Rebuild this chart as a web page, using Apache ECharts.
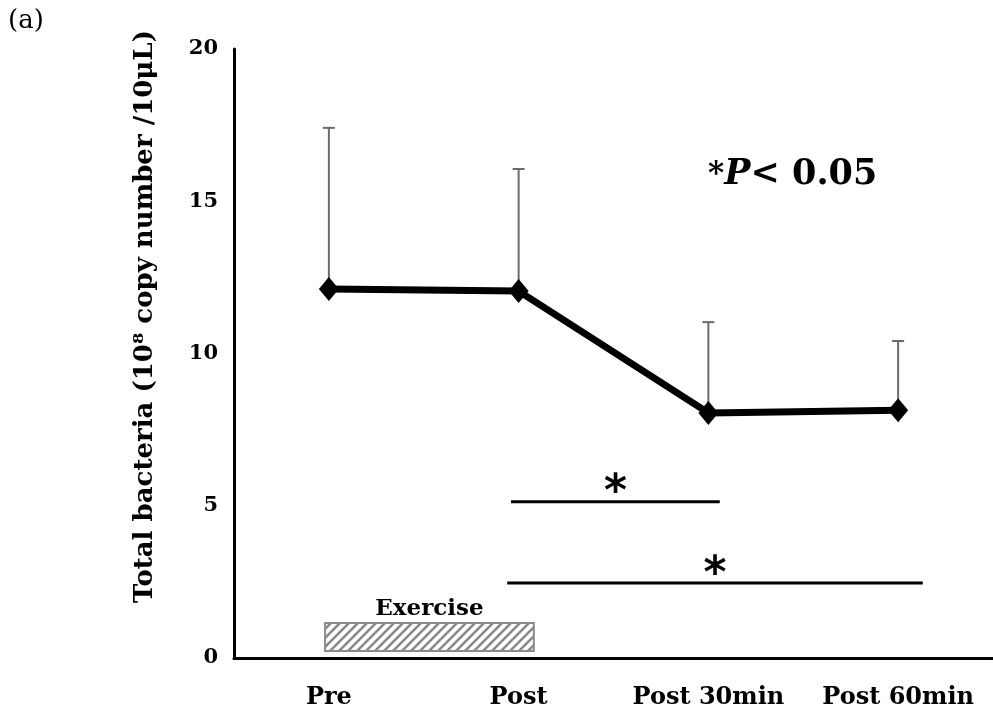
<!DOCTYPE html>
<html>
<head>
<meta charset="UTF-8">
<title>Total bacteria</title>
<script src="https://cdn.jsdelivr.net/npm/echarts@6/dist/echarts.min.js"></script>
<style>
  html, body { margin: 0; padding: 0; background: #fff; }
  #main { width: 993px; height: 722px; }
</style>
</head>
<body>
<div id="main"></div>
<script type="text/javascript">
// data
var categories = ['Pre', 'Post', 'Post 30min', 'Post 60min'];
var means = [12.12, 12.05, 8.05, 8.14];
var upperSD = [17.41, 16.06, 11.03, 10.41];
// significance bars in category units
var sigFrom = [0.96, 0.94];
var sigTo = [2.06, 3.13];
var sigLevel = [5.13, 2.46];
// exercise period box: [from, to, bottom, top]
var exercise = [[-0.02, 1.08, 0.23, 1.15]];
var yTicks = { min: 0, max: 20, interval: 5 };

var FONT = 'DejaVu Serif';

// hatch pattern for the exercise box
var hatch = document.createElement('canvas');
hatch.width = 9; hatch.height = 9;
(function () {
  var c = hatch.getContext('2d');
  c.fillStyle = '#fff';
  c.fillRect(0, 0, 9, 9);
  c.strokeStyle = '#8a8a8a';
  c.lineWidth = 2.6;
  c.beginPath();
  c.moveTo(-1, 10); c.lineTo(10, -1);
  c.moveTo(-1, 1); c.lineTo(1, -1);
  c.moveTo(8, 10); c.lineTo(10, 8);
  c.stroke();
})();

var errData = categories.map(function (c, i) { return [i, means[i], upperSD[i]]; });
var sigData = sigFrom.map(function (f, i) { return [f, sigTo[i], sigLevel[i]]; });

var myChart = echarts.init(document.getElementById('main'));

var option = {
  animation: false,
  backgroundColor: '#fff',
  grid: { left: 234, width: 764, top: 49, bottom: 64, containLabel: false },
  xAxis: [{
    type: 'category',
    data: categories,
    axisLine: { lineStyle: { color: '#000', width: 3 } },
    axisTick: { show: false },
    axisLabel: { interval: 0, hideOverlap: false, color: '#000', fontFamily: FONT, fontWeight: 'bold', fontSize: 24, margin: 28 }
  }, {
    type: 'value',
    min: -0.5, max: 3.5,
    show: false
  }],
  yAxis: {
    type: 'value',
    min: yTicks.min, max: yTicks.max, interval: yTicks.interval,
    splitLine: { show: false },
    axisTick: { show: false },
    axisLine: { show: true, onZero: false, lineStyle: { color: '#000', width: 3 } },
    axisLabel: { color: '#000', fontFamily: FONT, fontWeight: 'bold', fontSize: 21, margin: 16 },
    name: 'Total bacteria (10⁸ copy number /10μL)',
    nameLocation: 'middle',
    nameGap: 76,
    nameTextStyle: { color: '#000', fontFamily: FONT, fontWeight: 'bold', fontSize: 26, padding: [0, 0, 0, 74] }
  },
  series: [
    {
      type: 'custom',
      xAxisIndex: 1,
      data: exercise,
      z: 1,
      renderItem: function (params, api) {
        var p1 = api.coord([api.value(0), api.value(3)]);
        var p2 = api.coord([api.value(1), api.value(2)]);
        return {
          type: 'group',
          children: [{
            type: 'rect',
            shape: { x: p1[0], y: p1[1], width: p2[0] - p1[0], height: p2[1] - p1[1] },
            style: { fill: { image: hatch, repeat: 'repeat' }, stroke: '#8a8a8a', lineWidth: 2 }
          }, {
            type: 'text',
            x: (p1[0] + p2[0]) / 2, y: p1[1] - 2,
            style: { text: 'Exercise', fill: '#000', font: 'bold 23px "' + FONT + '"', align: 'center', verticalAlign: 'bottom' }
          }]
        };
      }
    },
    {
      type: 'custom',
      xAxisIndex: 0,
      data: errData,
      z: 2,
      renderItem: function (params, api) {
        var base = api.coord([api.value(0), api.value(1)]);
        var top = api.coord([api.value(0), api.value(2)]);
        var st = { stroke: '#6b6b6b', lineWidth: 2 };
        return {
          type: 'group',
          children: [
            { type: 'line', shape: { x1: base[0], y1: base[1], x2: top[0], y2: top[1] }, style: st },
            { type: 'line', shape: { x1: top[0] - 6, y1: top[1], x2: top[0] + 6, y2: top[1] }, style: st }
          ]
        };
      }
    },
    {
      type: 'line',
      data: means,
      z: 3,
      symbol: 'diamond',
      symbolSize: [20, 24],
      lineStyle: { color: '#000', width: 7 },
      itemStyle: { color: '#000' }
    },
    {
      type: 'custom',
      xAxisIndex: 1,
      data: sigData,
      z: 3,
      renderItem: function (params, api) {
        var a = api.coord([api.value(0), api.value(2)]);
        var b = api.coord([api.value(1), api.value(2)]);
        return {
          type: 'group',
          children: [{
            type: 'line',
            shape: { x1: a[0], y1: a[1], x2: b[0], y2: b[1] },
            style: { stroke: '#000', lineWidth: 3 }
          }, {
            type: 'text',
            x: (a[0] + b[0]) / 2, y: a[1] + 14,
            style: { text: '*', fill: '#000', font: 'bold 44px "DejaVu Sans"', align: 'center', verticalAlign: 'bottom' }
          }]
        };
      }
    }
  ],
  graphic: [
    {
      type: 'text', left: 8, top: 8,
      style: { text: '(a)', fill: '#000', font: '26px "' + FONT + '"' }
    },
    {
      type: 'text', left: 708, top: 157,
      style: {
        text: '{s|*}{p|P}{n|< 0.05}',
        rich: {
          s: { fill: '#000', font: 'bold 31px "' + FONT + '"' },
          p: { fill: '#000', font: 'italic bold 35px "' + FONT + '"' },
          n: { fill: '#000', font: 'bold 35px "' + FONT + '"' }
        }
      }
    }
  ]
};
myChart.setOption(option);
</script>
</body>
</html>
